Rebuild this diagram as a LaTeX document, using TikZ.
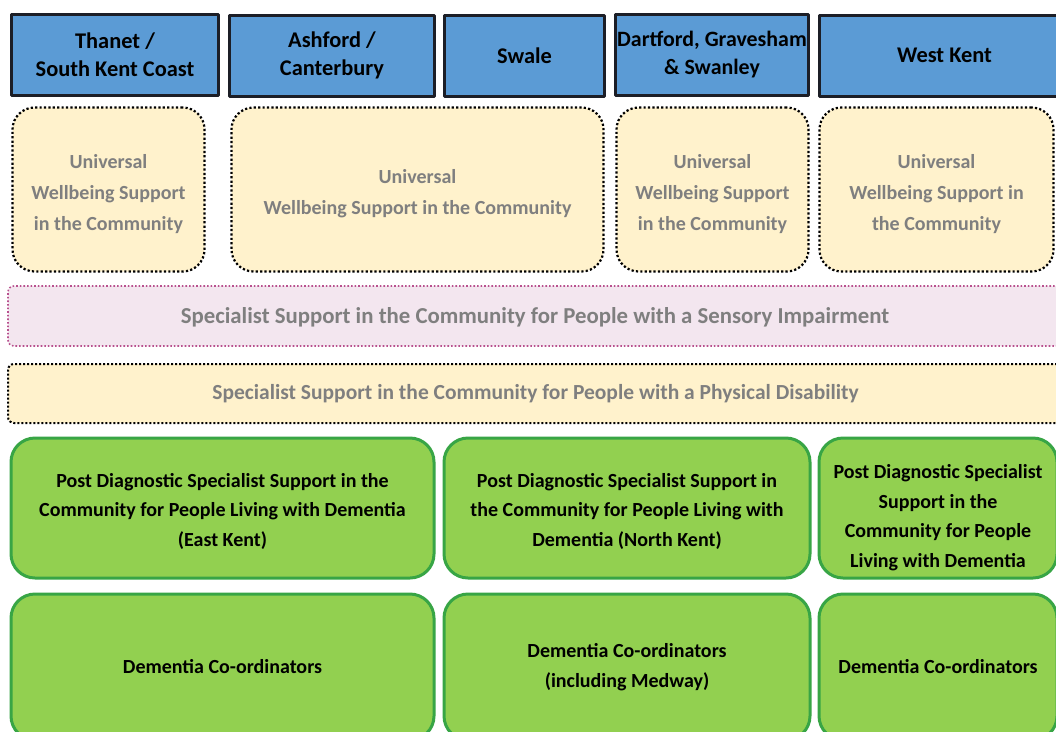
\documentclass[tikz,border=0pt]{standalone}
\usepackage{fontspec}
\setmainfont{Carlito}

\definecolor{areablue}{HTML}{5B9BD5}
\definecolor{areaedge}{HTML}{1C1E26}
\definecolor{cream}{HTML}{FFF2CC}
\definecolor{blush}{HTML}{F3E6EF}
\definecolor{plum}{HTML}{B8508E}
\definecolor{leaf}{HTML}{92D050}
\definecolor{leafedge}{HTML}{38A545}
\definecolor{softgray}{HTML}{7F7F7F}

% invisible strut that pushes a block of lines down a little
\newcommand{\topgap}[1]{\rule{0pt}{#1}}

\begin{document}
\begin{tikzpicture}[x=1pt, y=-1pt, line join=round,
  area/.style={draw=areaedge, line width=3pt, fill=areablue, inner sep=0pt,
    align=center, font=\bfseries\fontsize{22.4}{28}\selectfont},
  wellbeing/.style={draw=black, line width=2.2pt, dash pattern=on 2.2pt off 2.2pt,
    fill=cream, rounded corners=22pt, inner sep=0pt, align=center,
    text=softgray, font=\bfseries\fontsize{20}{31}\selectfont},
  sensory/.style={draw=plum, line width=1.6pt, dash pattern=on 1.6pt off 2pt,
    fill=blush, rounded corners=6pt, inner sep=0pt},
  physical/.style={sensory, draw=black, line width=2pt, dash pattern=on 2pt off 2pt,
    fill=cream},
  caption/.style={text=softgray, font=\bfseries\fontsize{#1}{24}\selectfont},
  dementia/.style={draw=leafedge, line width=3pt, fill=leaf, rounded corners=24pt,
    inner sep=0pt, align=center, font=\bfseries\fontsize{20}{29.5}\selectfont}]

  \fill[white] (0,0) rectangle (1056,731);
  \useasboundingbox (0,0) rectangle (1056,731);
  \clip (0,0) rectangle (1056,731);

  % districts
  \node[area, minimum width=207, minimum height=81] (thanet)   at (115,54.5)   {Thanet /\\South Kent Coast};
  \node[area, minimum width=205, minimum height=81] (ashford)  at (332,55.5)   {Ashford /\\Canterbury};
  \node[area, minimum width=160, minimum height=81] (swale)    at (524.5,55.5) {Swale};
  \node[area, minimum width=193, minimum height=81, font=\bfseries\fontsize{21.9}{28}\selectfont] (dartford) at (712,54.5) {Dartford, Gravesham\\\& Swanley};
  \node[area, minimum width=251, minimum height=81] (westkent) at (944.5,55.5) {West Kent};

  % universal wellbeing support
  \node[wellbeing, minimum width=192, minimum height=164] (wellthanet)  at (108.5,189.5) {\topgap{23pt}Universal\\Wellbeing Support\\in the Community};
  \node[wellbeing, minimum width=372, minimum height=164] (wellashford) at (417.5,189.5) {\topgap{23pt}Universal\\Wellbeing Support in the Community};
  \node[wellbeing, minimum width=192, minimum height=164] (welldart)    at (712.5,189.5) {\topgap{23pt}Universal\\Wellbeing Support\\in the Community};
  \node[wellbeing, minimum width=234, minimum height=164] (wellwest)    at (936.5,189.5) {\topgap{23pt}Universal\\Wellbeing Support in\\the Community};

  % county wide specialist support
  \node[sensory,  minimum width=1067, minimum height=60] (sensory)  at (541.5,316)   {};
  \node[physical, minimum width=1067, minimum height=59] (physical) at (541.5,393.5) {};
  \node[caption=22.8] (sensorytxt)  at (535,317)
    {Specialist Support in the Community for People with a Sensory Impairment};
  \node[caption=21.5] (physicaltxt) at (535.5,394)
    {Specialist Support in the Community for People with a Physical Disability};

  % dementia support
  \node[dementia, minimum width=423, minimum height=140] (posteast)  at (222.5,508) {\topgap{21pt}Post Diagnostic Specialist Support in the\\Community for People Living with Dementia\\(East Kent)};
  \node[dementia, minimum width=366, minimum height=140] (postnorth) at (627,508)   {\topgap{21pt}Post Diagnostic Specialist Support in\\the Community for People Living with\\Dementia (North Kent)};
  \node[dementia, minimum width=238, minimum height=140] (postwest)  at (938,508)   {\topgap{33pt}Post Diagnostic Specialist\\Support in the\\Community for People\\Living with Dementia};

  \node[dementia, minimum width=423, minimum height=146] (coordeast)  at (222.5,667) {Dementia Co-ordinators};
  \node[dementia, minimum width=366, minimum height=146] (coordnorth) at (627,667)   {Dementia Co-ordinators\\(including Medway)};
  \node[dementia, minimum width=238, minimum height=146] (coordwest)  at (938,667)   {Dementia Co-ordinators};

\end{tikzpicture}
\end{document}
